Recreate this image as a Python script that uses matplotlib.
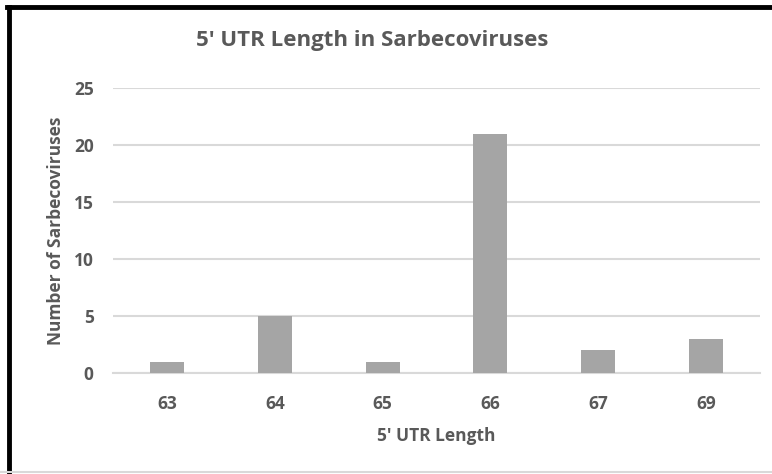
import matplotlib.pyplot as plt
from matplotlib.lines import Line2D

categories = ['63', '64', '65', '66', '67', '69']
counts = [1, 5, 1, 21, 2, 3]
y_ticks = [0, 5, 10, 15, 20, 25]

txt = '#595959'
grid = '#d9d9d9'
plt.rcParams['font.family'] = ['Open Sans', 'DejaVu Sans']
plt.rcParams['font.weight'] = 'bold'

fig = plt.figure(figsize=(7.72, 4.74), dpi=100)
ax = fig.add_axes([0.1464, 0.2131, 0.838, 0.6012])

x = range(len(categories))
ax.bar(x, counts, width=0.315, color='#a5a5a5', zorder=3)
ax.set_xlim(-0.5, len(categories) - 0.5)
ax.set_ylim(0, 25)
ax.set_yticks(y_ticks)
ax.set_xticks(list(x))
ax.set_xticklabels(categories)

for s in ['top', 'right', 'left']:
    ax.spines[s].set_visible(False)
ax.spines['bottom'].set_color(grid)
ax.spines['bottom'].set_linewidth(1.5)
ax.yaxis.grid(True, color=grid, linewidth=1.5, zorder=0)
ax.tick_params(length=0, labelcolor=txt, labelsize=12.5)
ax.tick_params(axis='y', pad=14)
ax.tick_params(axis='x', pad=16)

ax.set_xlabel("5' UTR Length", fontsize=12.5, fontweight='bold', color=txt, labelpad=10)
ax.set_ylabel('Number of Sarbecoviruses', fontsize=12.5, fontweight='bold', color=txt, labelpad=6)
fig.text(0.482, 0.915, "5' UTR Length in Sarbecoviruses", ha='center', va='center',
         fontsize=16, fontweight='bold', color=txt)

# outer frame: thick black on top and left, light gray at bottom
fig.add_artist(Line2D([0.0117, 0.0117], [0.0, 0.985], transform=fig.transFigure,
                      color='black', linewidth=3.5))
fig.add_artist(Line2D([0.0095, 1.0], [0.985, 0.985], transform=fig.transFigure,
                      color='black', linewidth=3.5))
fig.add_artist(Line2D([0.0, 1.0], [0.004, 0.004], transform=fig.transFigure,
                      color=grid, linewidth=1.5))

fig.savefig('out.png', dpi=100)
